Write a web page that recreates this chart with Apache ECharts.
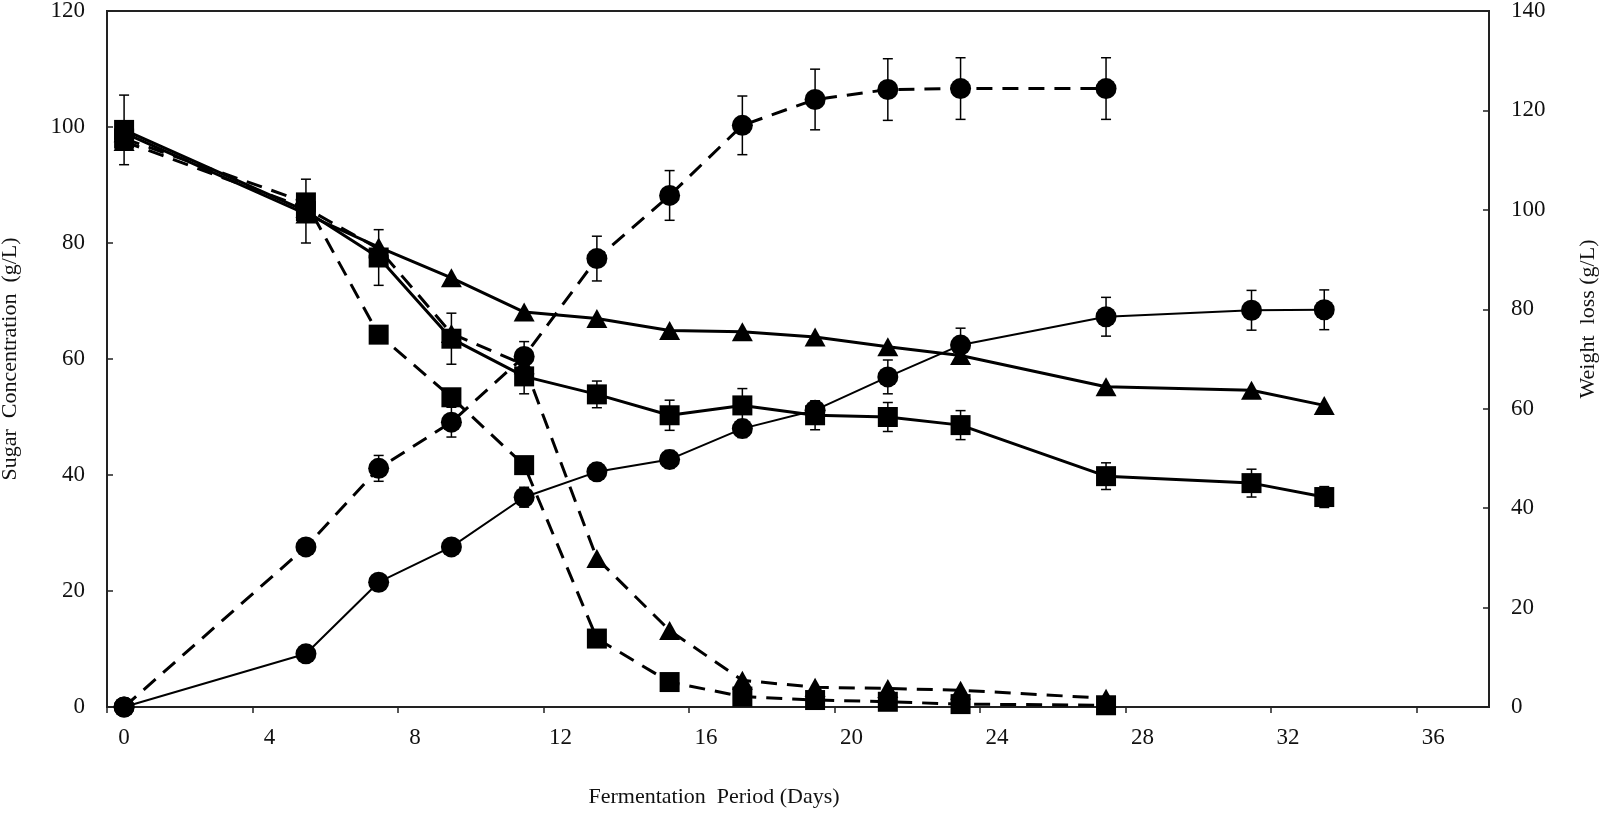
<!DOCTYPE html>
<html><head><meta charset="utf-8">
<script src="https://cdn.jsdelivr.net/npm/echarts@6/dist/echarts.min.js"></script>
<style>html,body{margin:0;padding:0;background:#fff}#c{width:1600px;height:813px}</style>
</head><body><div id="c"></div><script>
// Days (x values)
const daysLong = [0,5,7,9,11,13,15,17,19,21,23,27,31,33];
const daysShort = [0,5,7,9,11,13,15,17,19,21,23,27];
const xTickValues = [0,4,8,12,16,20,24,28,32,36];

// Sugar concentration (g/L) - left axis
const sugarSolidSquare = [99.5,85.5,77.5,63.5,57,53.9,50.3,52,50.3,50,48.6,39.8,38.6,36.2];
const sugarSolidSquareErr = [6,5.5,4.8,4.4,3,2.3,2.6,2.9,2.5,2.5,2.5,2.3,2.4,1.8];
const sugarSolidTriangle = [99,85,79.3,74,68.1,67,64.9,64.7,63.8,62.1,60.6,55.2,54.6,52];
const sugarDashedSquare = [98,87,64.2,53.4,41.7,11.8,4.3,1.8,1.2,0.9,0.5,0.3];
const sugarDashedTriangle = [97.5,86,79,64.4,59,25.6,13.2,4.6,3.4,3.2,2.9,1.5];

// Weight loss (g/L) - right axis
const weightSolidCircle = [0,10.7,25.1,32.2,42.2,47.3,49.8,56,59.7,66.4,72.8,78.5,79.8,79.9];
const weightSolidCircleErr = [0,0,0,0.5,2,1.7,1.8,1.8,1,3.4,3.4,3.9,4,4];
const weightDashedCircle = [0,32.2,48,57.3,70.5,90.2,102.9,117,122.2,124.2,124.4,124.4];
const weightDashedCircleErr = [0,0,2.6,3,3,4.5,5,5.9,6.1,6.2,6.2,6.2];

const FONT = 'Liberation Serif';
const INK = '#111';
const DASH = [16, 10];

function pairs(xs, ys){ return xs.map((x,i)=>[x, ys[i]]); }

function lineSeries(xs, ys, yAxisIndex, symbol, size, dashed, width){
  return {
    type:'line', xAxisIndex:0, yAxisIndex, data: pairs(xs, ys),
    symbol, symbolSize: size, showSymbol:true, animation:false, z:3,
    itemStyle:{color:'#000', borderWidth:0},
    lineStyle:{color:'#000', width: width, type: dashed ? DASH : 'solid'}
  };
}

function errSeries(xs, ys, errs, yAxisIndex){
  const data = [];
  xs.forEach((x,i)=>{ if (errs[i] > 0) data.push([x, ys[i]-errs[i], ys[i]+errs[i]]); });
  return {
    type:'custom', xAxisIndex:0, yAxisIndex, data, z:2, animation:false,
    encode:{x:0, y:[1,2]},
    renderItem(params, api){
      const lo = api.coord([api.value(0), api.value(1)]);
      const hi = api.coord([api.value(0), api.value(2)]);
      const w = 5;
      const style = {stroke:'#000', lineWidth:1.5};
      return {type:'group', children:[
        {type:'line', shape:{x1:lo[0], y1:lo[1], x2:hi[0], y2:hi[1]}, style},
        {type:'line', shape:{x1:lo[0]-w, y1:lo[1], x2:lo[0]+w, y2:lo[1]}, style},
        {type:'line', shape:{x1:hi[0]-w, y1:hi[1], x2:hi[0]+w, y2:hi[1]}, style}
      ]};
    }
  };
}

const chart = echarts.init(document.getElementById('c'), null, {renderer:'canvas'});
chart.setOption({
  animation:false,
  backgroundColor:'#fff',
  grid:{left:107, right:111, top:11, bottom:106, outerBoundsMode:'none', containLabel:false,
        show:true, borderColor:'#222', borderWidth:2, backgroundColor:'transparent'},
  xAxis:[
    {type:'value', min:-0.47, max:37.53, position:'bottom',
     axisLine:{show:true, onZero:false, lineStyle:{color:'#222', width:2}},
     axisTick:{show:false}, splitLine:{show:false},
     axisLabel:{customValues:xTickValues, fontFamily:FONT, fontSize:23, color:INK, margin:19},
     name:'Fermentation  Period (Days)', nameLocation:'middle', nameGap:79,
     nameTextStyle:{fontFamily:FONT, fontSize:22, color:INK, padding:[0,168,0,0]}},
    {type:'value', min:0, max:38, position:'bottom',
     axisLine:{show:false, onZero:false},
     axisTick:{show:true, length:6, customValues:xTickValues, lineStyle:{color:'#222', width:1.5}},
     axisLabel:{show:false}, splitLine:{show:false}}
  ],
  yAxis:[
    {type:'value', min:0, max:120, interval:20, position:'left',
     axisLine:{show:true, onZero:false, lineStyle:{color:'#222', width:2}},
     axisTick:{show:true, inside:true, length:6, lineStyle:{color:'#222', width:1.5}},
     splitLine:{show:false},
     axisLabel:{fontFamily:FONT, fontSize:23, color:INK, margin:22},
     name:'Sugar  Concentration  (g/L)', nameLocation:'middle', nameGap:86,
     nameTextStyle:{fontFamily:FONT, fontSize:22, color:INK}},
    {type:'value', min:0, max:140, interval:20, position:'right',
     axisLine:{show:true, onZero:false, lineStyle:{color:'#222', width:2}},
     axisTick:{show:true, inside:true, length:6, lineStyle:{color:'#222', width:1.5}},
     splitLine:{show:false},
     axisLabel:{fontFamily:FONT, fontSize:23, color:INK, margin:22},
     name:'Weight  loss (g/L)', nameLocation:'middle', nameGap:88,
     nameTextStyle:{fontFamily:FONT, fontSize:22, color:INK, padding:[0,0,0,80]}}
  ],
  series:[
    errSeries(daysLong, sugarSolidSquare, sugarSolidSquareErr, 0),
    errSeries(daysLong, weightSolidCircle, weightSolidCircleErr, 1),
    errSeries(daysShort, weightDashedCircle, weightDashedCircleErr, 1),
    lineSeries(daysLong, sugarSolidSquare, 0, 'rect', 20, false, 3),
    lineSeries(daysLong, sugarSolidTriangle, 0, 'triangle', [21,19], false, 3),
    lineSeries(daysShort, sugarDashedSquare, 0, 'rect', 20, true, 3),
    lineSeries(daysShort, sugarDashedTriangle, 0, 'triangle', [21,19], true, 3),
    lineSeries(daysLong, weightSolidCircle, 1, 'circle', 21, false, 2),
    lineSeries(daysShort, weightDashedCircle, 1, 'circle', 21, true, 3)
  ]
});
</script></body></html>
